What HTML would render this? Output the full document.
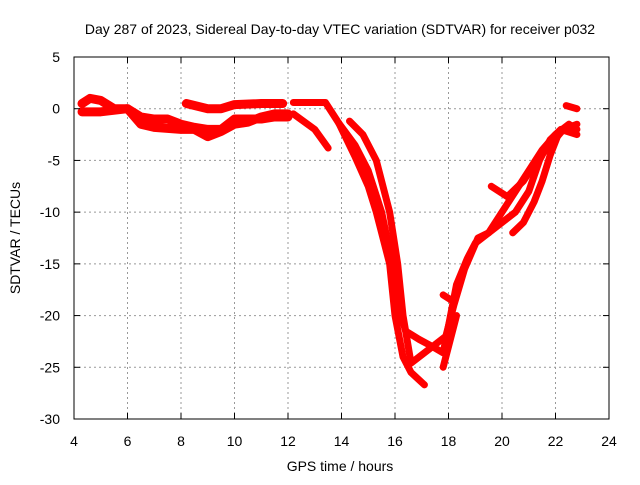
<!DOCTYPE html>
<html><head><meta charset="utf-8"><style>
body{margin:0;background:#fff}
svg text{font-family:"Liberation Sans",sans-serif;font-size:14px;fill:#000}
</style></head><body>
<svg id="chart" width="640" height="480" xmlns="http://www.w3.org/2000/svg">
<text x="340" y="34" text-anchor="middle">Day 287 of 2023, Sidereal Day-to-day VTEC variation (SDTVAR) for receiver p032</text>
<text x="340" y="471" text-anchor="middle">GPS time / hours</text>
<text transform="translate(20,238) rotate(-90)" text-anchor="middle">SDTVAR / TECUs</text>
<g id="grid"></g><g id="series"></g><g id="axes"></g>
</svg>
<script>
const xTicks=[4,6,8,10,12,14,16,18,20,22,24];
const yTicks=[5,0,-5,-10,-15,-20,-25,-30];
const sA=[[4.3,0.5],[4.6,1],[5,0.8],[5.5,0],[6,0],[6.5,-0.8],[7,-1],[7.5,-1],[8,-1.5],[8.5,-1.8],[9,-2],[9.5,-2],[10,-1],[10.5,-1],[11,-1],[11.5,-0.8],[12,-0.8]];
const sB=[[4.3,-0.3],[5,-0.3],[6,0],[6.5,-1.5],[7,-1.8],[8,-2],[8.5,-2],[9,-2.7],[9.5,-2.2],[10,-1.5],[10.5,-1.3],[11,-0.8],[11.5,-0.5],[12,-0.5]];
const sC=[[8.2,0.5],[9,0],[9.5,0],[10,0.4],[11,0.5],[11.8,0.5]];
const sD=[[12.2,0.6],[13.4,0.6],[13.9,-1.4],[14.5,-3.5],[15,-6],[15.5,-10],[15.9,-15],[16.1,-19],[16.4,-21.5],[16.9,-22.3],[17.4,-23],[17.8,-23.6],[18,-21],[18.3,-17],[18.7,-14.5],[19,-13],[19.5,-12],[20,-10],[20.5,-8],[21,-6],[21.5,-4],[22,-2.5],[22.5,-1.5],[22.8,-2]];
const sE=[[12.2,-0.5],[13,-2],[13.5,-3.8]];
const sE2=[[13.9,-1.4],[14.5,-4.6],[15,-7.5],[15.3,-10],[15.6,-13],[15.8,-15],[16,-20],[16.3,-24],[16.6,-25.5],[17.1,-26.7]];
const sF=[[14.3,-1.2],[14.8,-2.5],[15.3,-5],[15.8,-10],[16.1,-15],[16.3,-20],[16.6,-24.6],[17,-23.8],[17.4,-23],[17.9,-22],[18.2,-19],[18.6,-15.5],[19.1,-12.5],[19.5,-12],[20,-11],[20.5,-10],[21,-8],[21.4,-5],[21.8,-3],[22.2,-2],[22.8,-2.5]];
const sG=[[19.6,-7.5],[20.2,-8.5],[20.8,-7],[21.3,-5],[21.8,-3.5],[22.3,-2],[22.8,-1.5]];
const sH=[[20.4,-12],[20.8,-11],[21.2,-9],[21.5,-7],[21.8,-4.5],[22.1,-2.5]];
const sI=[[17.8,-18],[18.1,-18.5]];
const sJ=[[17.8,-25],[18,-23],[18.3,-20]];
const sK=[[22.4,0.3],[22.8,0]];
const allSeries=[sA,sB,sC,sD,sE,sE2,sF,sG,sH,sI,sJ,sK];
const L=74,R=609,T=57,B=419;
const xs=v=>L+(v-4)/20*(R-L);
const ys=v=>T+(5-v)/35*(B-T);
const NS="http://www.w3.org/2000/svg";
function mk(t,a,p){const e=document.createElementNS(NS,t);for(const k in a)e.setAttribute(k,a[k]);p.appendChild(e);return e;}
const grid=document.getElementById('grid'),axes=document.getElementById('axes'),ser=document.getElementById('series');
xTicks.forEach(t=>{const x=xs(t);
 if(t>4&&t<24){const g=mk('line',{x1:x,x2:x,y1:T,y2:B,stroke:'#999','stroke-dasharray':'2,3'},grid);
 
 }
 mk('line',{x1:x,x2:x,y1:B,y2:B-6,stroke:'#000'},axes);mk('line',{x1:x,x2:x,y1:T,y2:T+6,stroke:'#000'},axes);
 const tx=mk('text',{x:x,y:B+27,'text-anchor':'middle'},axes);tx.textContent=t;
 
 });
yTicks.forEach(t=>{const y=ys(t);
 if(t<5&&t>-30){const g=mk('line',{x1:L,x2:R,y1:y,y2:y,stroke:'#999','stroke-dasharray':'2,3'},grid);
 
 }
 mk('line',{x1:L,x2:L+6,y1:y,y2:y,stroke:'#000'},axes);mk('line',{x1:R,x2:R-6,y1:y,y2:y,stroke:'#000'},axes);
 const tx=mk('text',{x:L-14,y:y+5,'text-anchor':'end'},axes);tx.textContent=t;
 
 });
const fr=mk('rect',{x:L,y:T,width:R-L,height:B-T,fill:'none',stroke:'#000'},axes);


allSeries.forEach((s,i)=>{
 const w=(i<3)?9:7;
 const p=mk('polyline',{points:s.map(d=>xs(d[0])+','+ys(d[1])).join(' '),fill:'none',stroke:'#f00','stroke-width':w,'stroke-linejoin':'round','stroke-linecap':'round'},ser);
 
 
});
</script>
</body></html>
